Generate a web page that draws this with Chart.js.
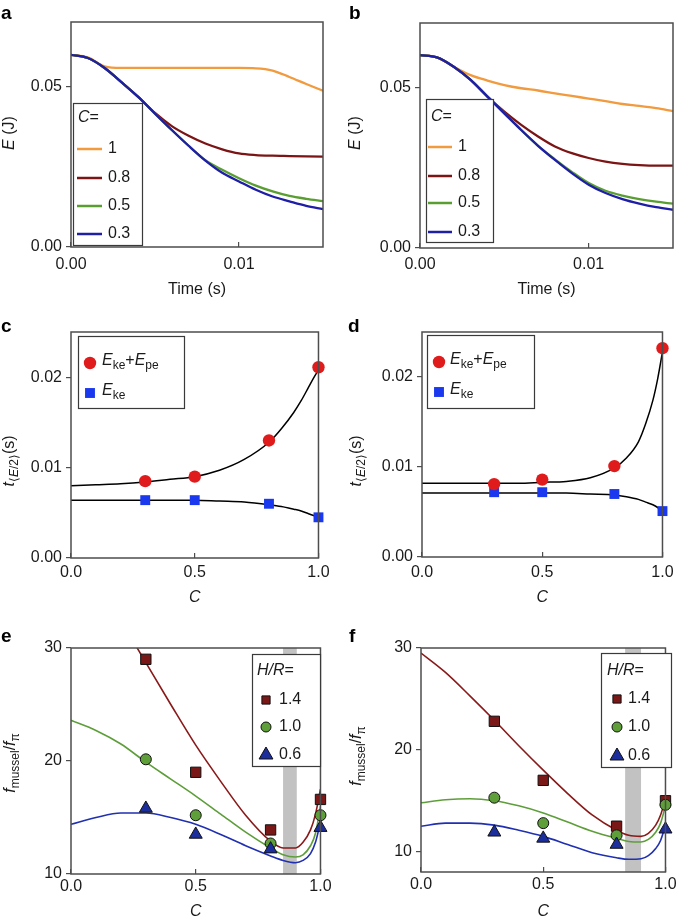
<!DOCTYPE html>
<html><head><meta charset="utf-8">
<script src="https://cdn.jsdelivr.net/npm/chart.js@4.4.1/dist/chart.umd.min.js"></script>
<style>
html,body{margin:0;padding:0;background:#fff;}
body{width:685px;height:924px;position:relative;overflow:hidden;}
canvas{position:absolute;display:block;}
</style></head>
<body>
<canvas id="ca" width="340" height="305" style="left:0px;top:0px"></canvas>
<canvas id="cb" width="345" height="305" style="left:340px;top:0px"></canvas>
<canvas id="cc" width="340" height="305" style="left:0px;top:305px"></canvas>
<canvas id="cd" width="345" height="305" style="left:340px;top:305px"></canvas>
<canvas id="ce" width="340" height="314" style="left:0px;top:610px"></canvas>
<canvas id="cf" width="345" height="314" style="left:340px;top:610px"></canvas>
<script>
const FONT = '"Liberation Sans", Arial, Helvetica, sans-serif';
const INK = '#1a1a1a';
const AXIS = '#4d4d4d';

// ---------- Panels a, b : energy vs time ----------
const timeS = [0,0.001,0.002,0.003,0.004,0.005,0.006,0.007,0.008,0.009,0.010,0.011,0.012,0.013,0.014,0.015];
const aE_C1  = [0.0598,0.0590,0.0562,0.0557,0.0557,0.0557,0.0557,0.0557,0.0557,0.0557,0.0557,0.0556,0.0549,0.0529,0.0507,0.0486];
const aE_C08 = [0.0598,0.0588,0.0557,0.0513,0.0467,0.0417,0.0376,0.0346,0.0322,0.0304,0.0291,0.0286,0.0284,0.0283,0.0282,0.0281];
const aE_C05 = [0.0598,0.0588,0.0557,0.0513,0.0467,0.0415,0.0364,0.0315,0.0270,0.0240,0.0214,0.0191,0.0173,0.0159,0.0150,0.0143];
const aE_C03 = [0.0598,0.0588,0.0557,0.0513,0.0467,0.0415,0.0364,0.0315,0.0269,0.0231,0.0204,0.0178,0.0157,0.0142,0.0128,0.0118];
const bE_C1  = [0.0600,0.0593,0.0564,0.0538,0.0521,0.0507,0.0497,0.0490,0.0481,0.0473,0.0465,0.0457,0.0448,0.0442,0.0435,0.0426];
const bE_C08 = [0.0600,0.0593,0.0564,0.0523,0.0471,0.0424,0.0383,0.0347,0.0316,0.0295,0.0280,0.0269,0.0262,0.0258,0.0256,0.0256];
const bE_C05 = [0.0600,0.0593,0.0564,0.0523,0.0471,0.0419,0.0367,0.0318,0.0276,0.0237,0.0202,0.0178,0.0163,0.0152,0.0144,0.0138];
const bE_C03 = [0.0600,0.0593,0.0564,0.0523,0.0471,0.0419,0.0367,0.0318,0.0274,0.0233,0.0197,0.0171,0.0152,0.0138,0.0127,0.0119];
const energyLegendLabels = ['1','0.8','0.5','0.3'];
const timeTicks = [0, 0.01];
const timeTickLabels = ['0.00','0.01'];
const energyTicks = [0, 0.05];
const energyTickLabels = ['0.00','0.05'];

// ---------- Panels c, d : half-energy time vs C ----------
const pointC = [0.3,0.5,0.8,1.0];
const cKePe = [0.0085,0.0090,0.0130,0.0211];
const cKe   = [0.0064,0.0064,0.0060,0.0045];
const dKePe = [0.0081,0.0086,0.0101,0.0232];
const dKe   = [0.0072,0.0072,0.0070,0.0051];
const fitC  = [0,0.1,0.2,0.3,0.4,0.5,0.6,0.7,0.8,0.85,0.9,0.93,0.96,0.98,1.0];
const cFitKePe = [0.0080,0.0081,0.0082,0.0084,0.0087,0.0090,0.0097,0.0109,0.0128,0.0143,0.0161,0.0174,0.0189,0.0199,0.0208];
const cFitKe   = [0.0064,0.0064,0.0064,0.0064,0.0064,0.0064,0.0063,0.0062,0.0059,0.0057,0.0054,0.0052,0.0049,0.0047,0.0045];
const dFitKePe = [0.0082,0.0082,0.0082,0.0082,0.0082,0.0083,0.0084,0.0088,0.0099,0.0110,0.0128,0.0148,0.0174,0.0198,0.0228];
const dFitKe   = [0.0071,0.0071,0.0071,0.0071,0.0071,0.0071,0.0071,0.0070,0.0069,0.0067,0.0064,0.0061,0.0058,0.0055,0.0051];
const cTicks = [0, 0.5, 1];
const cTickLabels = ['0.0','0.5','1.0'];
const halfTimeTicks = [0, 0.01, 0.02];
const halfTimeTickLabels = ['0.00','0.01','0.02'];

// ---------- Panels e, f : frequency ratio vs C ----------
const eHR14 = [29.0,19.0,13.9,16.6];
const eHR10 = [20.15,15.2,12.7,15.2];
const eHR06 = [15.8,13.5,12.2,14.1];
const fHR14 = [22.8,17.0,12.5,15.0];
const fHR10 = [15.3,12.8,11.6,14.6];
const fHR06 = [11.9,11.3,10.7,12.2];
const eFit14 = [41.0,36.5,32.5,28.7,25.0,21.4,18.2,15.2,12.9,12.3,12.3,12.8,13.9,15.3,17.5];
const eFit10 = [23.6,22.7,21.5,19.9,18.4,16.9,15.3,13.7,12.3,11.7,11.5,11.7,12.5,13.6,16.0];
const eFit06 = [14.4,15.0,15.4,15.4,15.0,14.4,13.5,12.5,11.6,11.2,11.0,11.2,11.8,12.8,14.6];
const fFit14 = [29.5,27.6,25.3,22.9,20.4,18.0,15.7,13.6,12.1,11.6,11.5,11.8,12.6,13.6,15.2];
const fFit10 = [14.8,15.1,15.2,15.0,14.5,13.8,12.9,12.0,11.3,11.0,10.95,11.2,11.9,12.8,14.5];
const fFit06 = [12.5,12.8,12.8,12.6,12.1,11.5,10.7,9.9,9.4,9.25,9.3,9.6,10.3,11.1,12.6];
const eBand = [0.85, 0.905];
const fBand = [0.835, 0.90];
const ratioTicks = [10,20,30];
const ratioTickLabels = ['10','20','30'];
const hrLegendLabels = ['1.4','1.0','0.6'];

const COL = {
  orange:'#F19A3E', darkred:'#7B1414', green:'#5A9E32', blue:'#1E1EA6',
  red:'#E01B1B', brightblue:'#1A38EE',
  fRed:'#8A1A1A', fGreen:'#5E9E3A', fBlue:'#2030B0',
  mRed:'#7A1818', mGreen:'#5F9F3A', mBlue:'#1C2D9C'
};

const pts = (xs, ys) => xs.map((x, i) => ({x: x, y: ys[i]}));
function lineDS(xs, ys, color, width, order) {
  return {data: pts(xs, ys), borderColor: color, backgroundColor: color, borderWidth: width,
    pointRadius: 0, cubicInterpolationMode: 'monotone', fill: false, order: order};
}
function markDS(xs, ys, style, r, fill, border, bw) {
  return {data: pts(xs, ys), showLine: false, pointStyle: style, pointRadius: r, clip: false,
    backgroundColor: fill, borderColor: border, borderWidth: bw, order: 0};
}

function drawRich(ctx, runs, x, y, opt) {
  ctx.save();
  ctx.translate(x, y);
  if (opt.rot) ctx.rotate(opt.rot);
  const base = opt.size || 16;
  let w = 0;
  const parts = runs.map(r => {
    const size = r.sub ? Math.round(base * 0.72) : base;
    const font = (r.it ? 'italic ' : '') + size + 'px ' + FONT;
    ctx.font = font;
    const mw = ctx.measureText(r.t).width;
    w += mw;
    return {t: r.t, font: font, w: mw, dy: r.sub ? base * 0.3 : 0};
  });
  let cx = opt.align === 'center' ? -w / 2 : 0;
  ctx.textBaseline = 'middle';
  ctx.textAlign = 'left';
  ctx.fillStyle = INK;
  parts.forEach(p => { ctx.font = p.font; ctx.fillText(p.t, cx, p.dy); cx += p.w; });
  ctx.restore();
}

function drawMarker(ctx, style, x, y, r, fill, stroke, bw) {
  ctx.save();
  ctx.beginPath();
  if (style === 'circle') {
    ctx.arc(x, y, r, 0, Math.PI * 2);
  } else if (style === 'rect') {
    const s = r * Math.SQRT1_2;
    ctx.rect(x - s, y - s, 2 * s, 2 * s);
  } else if (style === 'triangle') {
    let a = 0;
    ctx.moveTo(x + Math.sin(a) * r, y - Math.cos(a) * r);
    a += 2 * Math.PI / 3; ctx.lineTo(x + Math.sin(a) * r, y - Math.cos(a) * r);
    a += 2 * Math.PI / 3; ctx.lineTo(x + Math.sin(a) * r, y - Math.cos(a) * r);
    ctx.closePath();
  }
  ctx.fillStyle = fill; ctx.fill();
  if (bw > 0) { ctx.strokeStyle = stroke; ctx.lineWidth = bw; ctx.stroke(); }
  ctx.restore();
}

function legendBox(ctx, b) {
  ctx.save();
  ctx.fillStyle = '#fff';
  ctx.fillRect(b[0], b[1], b[2] - b[0], b[3] - b[1]);
  ctx.strokeStyle = '#3a3a3a'; ctx.lineWidth = 1.2;
  ctx.strokeRect(b[0] + 0.5, b[1] + 0.5, b[2] - b[0], b[3] - b[1]);
  ctx.restore();
}

function lineLegend(L, labels, colors) {
  return function (ctx) {
    legendBox(ctx, L.box);
    drawRich(ctx, [{t:'C', it:1}, {t:'='}], L.hx, L.hy, {});
    labels.forEach((lab, i) => {
      ctx.save();
      ctx.strokeStyle = colors[i]; ctx.lineWidth = 2.5;
      ctx.beginPath(); ctx.moveTo(L.lx0, L.ys[i]); ctx.lineTo(L.lx1, L.ys[i]); ctx.stroke();
      ctx.restore();
      drawRich(ctx, [{t: lab}], L.tx, L.ys[i], {});
    });
  };
}

function energyTimeLegend(L) {
  return function (ctx) {
    legendBox(ctx, L.box);
    drawMarker(ctx, 'circle', L.mx, L.y1 + 2, 6.2, COL.red, null, 0);
    drawRich(ctx, [{t:'E', it:1}, {t:'ke', sub:1}, {t:'+'}, {t:'E', it:1}, {t:'pe', sub:1}], L.tx, L.y1, {});
    drawMarker(ctx, 'rect', L.mx, L.y2 + 2, 7, COL.brightblue, null, 0);
    drawRich(ctx, [{t:'E', it:1}, {t:'ke', sub:1}], L.tx, L.y2, {});
  };
}

function hrLegend(L) {
  return function (ctx) {
    legendBox(ctx, L.box);
    drawRich(ctx, [{t:'H/R', it:1}, {t:'='}], L.hx, L.hy, {});
    drawMarker(ctx, 'rect', L.mx, L.ys[0], 5.8, COL.mRed, '#111', 1);
    drawMarker(ctx, 'circle', L.mx, L.ys[1], 5, COL.mGreen, '#111', 1);
    drawMarker(ctx, 'triangle', L.mx, L.ys[2], 8, COL.mBlue, '#111', 1);
    hrLegendLabels.forEach((lab, i) => drawRich(ctx, [{t: lab}], L.tx, L.ys[i], {}));
  };
}

function makeChart(o) {
  const deco = {
    id: 'deco',
    beforeDatasetsDraw(chart) {
      if (!o.band) return;
      const ctx = chart.ctx, ca = chart.chartArea, xs = chart.scales.x;
      const x1 = xs.getPixelForValue(o.band[0]), x2 = xs.getPixelForValue(o.band[1]);
      ctx.save(); ctx.fillStyle = '#C2C2C2';
      ctx.fillRect(x1, ca.top, x2 - x1, ca.bottom - ca.top);
      ctx.restore();
    },
    afterDraw(chart) {
      const ctx = chart.ctx, ca = chart.chartArea;
      ctx.save();
      ctx.strokeStyle = AXIS; ctx.lineWidth = 1.5;
      ctx.strokeRect(ca.left, ca.top, ca.right - ca.left, ca.bottom - ca.top);
      ctx.restore();
      if (o.legend) o.legend(ctx);
      drawRich(ctx, o.ytitle, o.ytx, o.yty, {rot: -Math.PI / 2, align: 'center'});
      ctx.save();
      ctx.font = 'bold 19px ' + FONT; ctx.fillStyle = '#000';
      ctx.textBaseline = 'alphabetic'; ctx.textAlign = 'left';
      ctx.fillText(o.letter, o.lx, o.ly);
      ctx.restore();
    }
  };
  const canvas = document.getElementById(o.id);
  return new Chart(canvas, {
    type: 'line',
    data: {datasets: o.datasets},
    options: {
      responsive: false, animation: false, events: [],
      layout: {padding: {left: 0, top: o.top, right: o.right, bottom: 0}},
      plugins: {legend: {display: false}, tooltip: {enabled: false}},
      scales: {
        x: {
          type: 'linear', min: o.xmin, max: o.xmax,
          afterFit: s => { s.height = o.xh; },
          afterBuildTicks: s => { s.ticks = o.xticks.map(v => ({value: v})); },
          grid: {display: true, drawOnChartArea: false, tickLength: -5, color: AXIS, lineWidth: 1.2},
          border: {display: false},
          ticks: {padding: o.xtp, color: INK, font: {size: 16, family: FONT}, maxRotation: 0, autoSkip: false,
            callback: (v, i) => o.xlabels[i]},
          title: {display: true, text: o.xtitle, color: INK,
            font: {size: 16, family: FONT, style: o.xtitleItalic ? 'italic' : 'normal'},
            padding: {top: 0, bottom: o.xtpb}}
        },
        y: {
          type: 'linear', min: o.ymin, max: o.ymax,
          afterFit: s => { s.width = o.left; },
          afterBuildTicks: s => { s.ticks = o.yticks.map(v => ({value: v})); },
          grid: {display: true, drawOnChartArea: false, tickLength: 5, color: AXIS, lineWidth: 1.2},
          border: {display: false},
          ticks: {padding: 4, color: INK, font: {size: 16, family: FONT}, autoSkip: false,
            callback: (v, i) => o.ylabels[i]}
        }
      }
    },
    plugins: [deco]
  });
}

const energyColors = [COL.orange, COL.darkred, COL.green, COL.blue];
const eTitle = [{t:'E', it:1}, {t:' (J)'}];
const tTitle = [{t:'t', it:1}, {t:'\u27E8', sub:1}, {t:'E', it:1, sub:1}, {t:'/2\u27E9', sub:1}, {t:'(s)'}];
const fTitle = [{t:'f', it:1}, {t:'mussel', sub:1}, {t:'/'}, {t:'f', it:1}, {t:'\u03C0', sub:1}];

// a
makeChart({
  id: 'ca', top: 22, right: 17, left: 71, xh: 58, xtp: 13.4, xtpb: 5.4,
  xmin: 0, xmax: 0.015, ymin: 0, ymax: 0.07,
  xticks: timeTicks, xlabels: timeTickLabels, yticks: energyTicks, ylabels: energyTickLabels,
  xtitle: 'Time (s)', ytitle: eTitle, ytx: 9.5, yty: 133, letter: 'a', lx: 1, ly: 19,
  datasets: [
    lineDS(timeS, aE_C03, COL.blue, 2.3, 1),
    lineDS(timeS, aE_C05, COL.green, 2.3, 2),
    lineDS(timeS, aE_C08, COL.darkred, 2.3, 3),
    lineDS(timeS, aE_C1, COL.orange, 2.3, 4)
  ],
  legend: lineLegend({box:[73,103,142,245], hx:78, hy:118, ys:[149,178,206,234], lx0:77, lx1:102, tx:108},
    energyLegendLabels, energyColors)
});
// b
makeChart({
  id: 'cb', top: 23, right: 12, left: 80, xh: 57, xtp: 12.4, xtpb: 5.4,
  xmin: 0, xmax: 0.015, ymin: 0, ymax: 0.07,
  xticks: timeTicks, xlabels: timeTickLabels, yticks: energyTicks, ylabels: energyTickLabels,
  xtitle: 'Time (s)', ytitle: eTitle, ytx: 16, yty: 133, letter: 'b', lx: 9, ly: 19,
  datasets: [
    lineDS(timeS, bE_C03, COL.blue, 2.3, 1),
    lineDS(timeS, bE_C05, COL.green, 2.3, 2),
    lineDS(timeS, bE_C08, COL.darkred, 2.3, 3),
    lineDS(timeS, bE_C1, COL.orange, 2.3, 4)
  ],
  legend: lineLegend({box:[86,99,153,242], hx:91, hy:117, ys:[147,176,203,232], lx0:88, lx1:112, tx:118},
    energyLegendLabels, energyColors)
});
// c
makeChart({
  id: 'cc', top: 27, right: 17, left: 71, xh: 52, xtp: 10.4, xtpb: 2.4,
  xmin: 0, xmax: 1, ymin: 0, ymax: 0.025,
  xticks: cTicks, xlabels: cTickLabels, yticks: halfTimeTicks, ylabels: halfTimeTickLabels,
  xtitle: 'C', xtitleItalic: true, ytitle: tTitle, ytx: 10, yty: 156, letter: 'c', lx: 1, ly: 27,
  datasets: [
    markDS(pointC, cKePe, 'circle', 6.2, COL.red, COL.red, 0),
    markDS(pointC, cKe, 'rect', 7, COL.brightblue, COL.brightblue, 0),
    lineDS(fitC, cFitKePe, '#000', 1.5, 1),
    lineDS(fitC, cFitKe, '#000', 1.5, 1)
  ],
  legend: energyTimeLegend({box:[78,31,184,103], mx:90, tx:102, y1:56, y2:86})
});
// d
makeChart({
  id: 'cd', top: 27, right: 12, left: 82, xh: 53, xtp: 11.4, xtpb: 2.4,
  xmin: 0, xmax: 1, ymin: 0, ymax: 0.025,
  xticks: cTicks, xlabels: cTickLabels, yticks: halfTimeTicks, ylabels: halfTimeTickLabels,
  xtitle: 'C', xtitleItalic: true, ytitle: tTitle, ytx: 17, yty: 156, letter: 'd', lx: 8, ly: 27,
  datasets: [
    markDS(pointC, dKePe, 'circle', 6.2, COL.red, COL.red, 0),
    markDS(pointC, dKe, 'rect', 7, COL.brightblue, COL.brightblue, 0),
    lineDS(fitC, dFitKePe, '#000', 1.5, 1),
    lineDS(fitC, dFitKe, '#000', 1.5, 1)
  ],
  legend: energyTimeLegend({box:[87,30,194,103], mx:99, tx:110, y1:55, y2:85})
});
// e
makeChart({
  id: 'ce', top: 38, right: 17, left: 71, xh: 50, xtp: 8.4, xtpb: 2.4,
  xmin: 0, xmax: 1, ymin: 10, ymax: 30, band: eBand,
  xticks: cTicks, xlabels: cTickLabels, yticks: ratioTicks, ylabels: ratioTickLabels,
  xtitle: 'C', xtitleItalic: true, ytitle: fTitle, ytx: 11, yty: 153, letter: 'e', lx: 1, ly: 32,
  datasets: [
    markDS(pointC, eHR06, 'triangle', 7.5, COL.mBlue, '#111', 1),
    markDS(pointC, eHR10, 'circle', 5.5, COL.mGreen, '#111', 1),
    markDS(pointC, eHR14, 'rect', 7.3, COL.mRed, '#111', 1),
    lineDS(fitC, eFit06, COL.fBlue, 1.6, 1),
    lineDS(fitC, eFit10, COL.fGreen, 1.6, 2),
    lineDS(fitC, eFit14, COL.fRed, 1.6, 3)
  ],
  legend: hrLegend({box:[252,44,320,156], hx:257, hy:61, mx:266, ys:[90,117,145], tx:279})
});
// f
makeChart({
  id: 'cf', top: 38, right: 12, left: 81, xh: 52, xtp: 8.4, xtpb: 2.4,
  xmin: 0, xmax: 1, ymin: 8, ymax: 30, band: fBand,
  xticks: cTicks, xlabels: cTickLabels, yticks: ratioTicks, ylabels: ratioTickLabels,
  xtitle: 'C', xtitleItalic: true, ytitle: fTitle, ytx: 17, yty: 146, letter: 'f', lx: 9, ly: 32,
  datasets: [
    markDS(pointC, fHR06, 'triangle', 7.5, COL.mBlue, '#111', 1),
    markDS(pointC, fHR10, 'circle', 5.5, COL.mGreen, '#111', 1),
    markDS(pointC, fHR14, 'rect', 7.3, COL.mRed, '#111', 1),
    lineDS(fitC, fFit06, COL.fBlue, 1.6, 1),
    lineDS(fitC, fFit10, COL.fGreen, 1.6, 2),
    lineDS(fitC, fFit14, COL.fRed, 1.6, 3)
  ],
  legend: hrLegend({box:[261,43,331,157], hx:267, hy:61, mx:277, ys:[89,117,146], tx:288})
});
</script>
</body></html>
